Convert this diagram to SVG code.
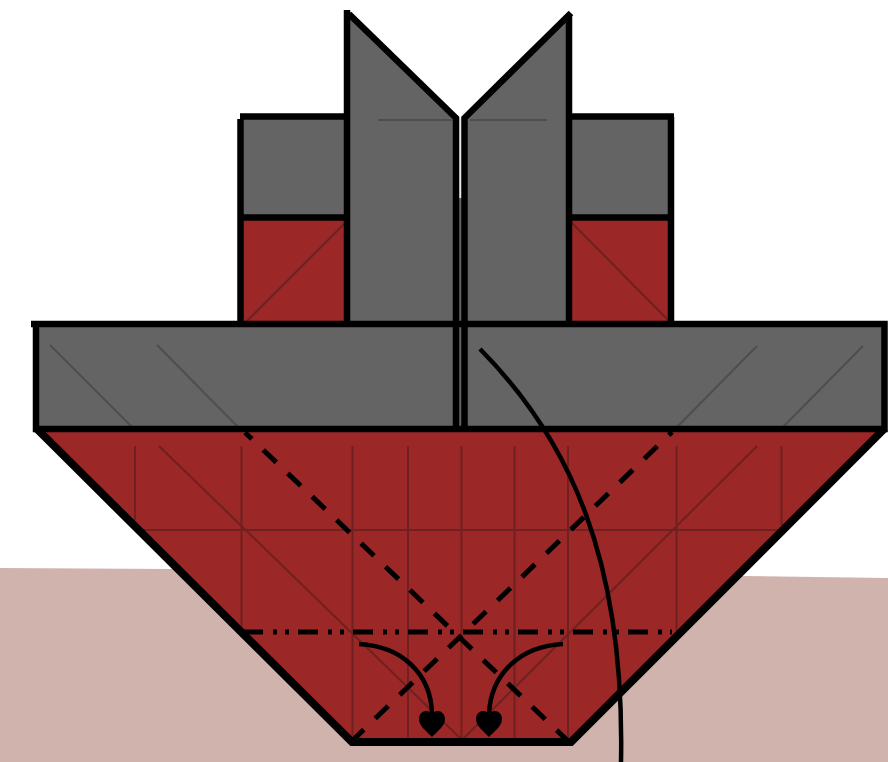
<svg xmlns="http://www.w3.org/2000/svg" width="888" height="762" viewBox="0 0 888 762">
<style>
.red{fill:#9c2727}.grey{fill:#646464}
.k{fill:none;stroke:#000;stroke-width:6.500}
.tr{fill:none;stroke:#6f2020;stroke-width:2}
.tg{fill:none;stroke:#4e4e4e;stroke-width:2}
.dash{fill:none;stroke:#000;stroke-width:5}
.dd{fill:none;stroke:#000;stroke-width:5;stroke-dasharray:20 10 4 8 4 9}
.arc{fill:none;stroke:#000;stroke-width:4.500}
</style>
<defs><path id="heart" d="M0,26 C-5,20.500 -13,15.500 -13,8 C-13,3 -9.500,0 -6,0 C-3,0 -1,1.500 0,3 C1,1.500 3,0 6,0 C9.500,0 13,3 13,8 C13,15.500 5,20.500 0,26Z" fill="#000"/></defs>
<rect width="888" height="762" fill="#fff"/>
<polygon id="ground" points="0,568 170,569 742,576 888,578 888,762 0,762" fill="#d0b3ad"/>
<g id="hull">
<polygon class="red" points="36,428 885,428 571,742 352,742"/>
<path class="tr" d="M135,446V520M241.500,446V631M352.500,446V740M408,446V740M461.500,446V740M514.500,446V740M568,446V740M676.500,446V631M781.500,446V525M140,530H780M159,446L462,740M757,446L462,740"/>
<path class="k" style="stroke-width:8" d="M36,428L352,742H571L885,428"/>
</g>
<g id="strip"><rect x="459" y="198" width="3" height="231" fill="#646464"/><rect x="459" y="118" width="3" height="80" fill="#e8e8e8"/></g>
<g id="box-left">
<rect class="grey" x="241" y="117" width="106" height="100"/><rect class="red" x="241" y="217" width="106" height="108"/>
<path class="tr" d="M245,323L346,222"/>
<path class="k" d="M240.500,325V119M240,116.500H347M241,217.500H347"/>
</g>
<g id="box-right">
<rect class="grey" x="569" y="117" width="102" height="100"/><rect class="red" x="569" y="217" width="102" height="104"/>
<path class="tr" d="M571,222L668,320"/>
<path class="k" d="M671,325V117M569,116.500H674M569,217.500H671"/>
</g>
<g id="flap-left">
<polygon class="grey" points="347,12 456,118 456,325 347,325"/>
<path class="tg" d="M378,120H452"/>
<path class="k" d="M456,325V118L349,14M347,10V325"/>
</g>
<g id="flap-right">
<polygon class="grey" points="569,14 464,118 464,325 569,325"/>
<path class="tg" d="M470,120H547"/>
<path class="k" d="M464.500,325V118L571,13M569,14V325"/>
</g>
<g id="wing-left">
<rect class="grey" x="36" y="325" width="420" height="103"/>
<path class="tg" d="M50,345L132,427M157,345L238,427"/>
<path class="k" d="M31,324H459M36,321V429H459"/>
</g>
<g id="wing-right">
<rect class="grey" x="465" y="325" width="420" height="103"/>
<path class="tg" d="M757,346L677,427M863,346L783,427"/>
<path class="k" d="M459,324H884.500V429H459"/>
</g>
<g id="mid-lines"><path class="k" d="M456,322V429M464.500,322V429"/></g>
<g id="connectors">
<path class="dash" stroke-dasharray="18 15.800" stroke-dashoffset="8.500" d="M245,432.500L568,741"/>
<path class="dash" stroke-dasharray="18 16" stroke-dashoffset="13.500" d="M672,432L352,741"/>
<path class="dd" d="M243,632H672"/>
<path class="arc" d="M480,349C570,440 625,560 621,762"/>
<path class="arc" d="M359,644C400,646 431,672 432,714"/>
<path class="arc" d="M563,644C522,646 491,672 489,714"/>
<use href="#heart" x="432" y="711"/>
<use href="#heart" x="489" y="711"/>
</g>
</svg>
